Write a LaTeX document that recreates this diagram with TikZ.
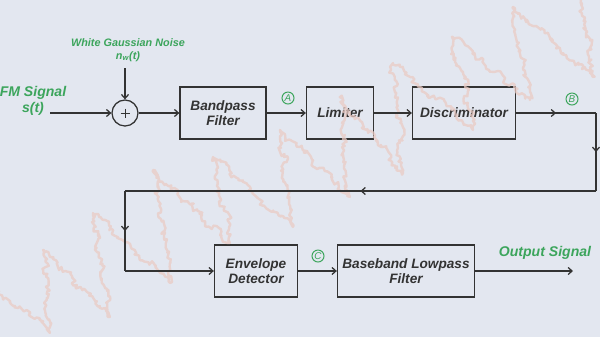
\documentclass[tikz,border=0pt]{standalone}
\usepackage{fontspec}
\setmainfont{Liberation Sans}
\usepackage{tikz}
\usetikzlibrary{arrows.meta, positioning, decorations.pathmorphing, decorations.markings}
\definecolor{fmGreen}{HTML}{3CA55C}
\definecolor{fmBack}{HTML}{E3E7F0}
\definecolor{fmWave}{HTML}{EACBC4}
\definecolor{fmLine}{HTML}{333333}

\begin{document}
\begin{tikzpicture}[x=0.025cm, y=-0.025cm,
    >={Straight Barb[length=2.8pt, width=5pt]},
    block/.style={rectangle, draw=fmLine, line width=0.9pt, minimum height=1.3cm,
                  font=\fontsize{9.7}{11}\selectfont\bfseries\itshape\color{fmLine}, align=center},
    adder/.style={circle, draw=fmLine, line width=0.9pt, minimum size=0.65cm, inner sep=0pt},
    conn/.style={draw=fmLine, line width=0.9pt},
    midarrow/.style={postaction={decorate}, decoration={markings,
                     mark=at position 0.5 with {\arrow{>}}}},
    tag/.style={circle, draw=fmGreen, line width=0.7pt, inner sep=0pt, minimum size=0.3cm,
                font=\fontsize{7}{7}\selectfont\itshape\color{fmGreen}},
    sig/.style={font=\fontsize{10}{11}\selectfont\bfseries\itshape\color{fmGreen}, align=center},
    wave/.style={draw=fmWave, line width=1.7pt, line join=round},
  ]
    % background
    \fill[fmBack] (0,0) rectangle (600,337);
    \useasboundingbox (0,0) rectangle (600,337);

    % blocks
    \node[adder] (add) at (125,113) {};
    \draw[conn, line width=0.6pt] (add.center) +(-4.5,0) -- +(4.5,0)
                                  (add.center) +(0,-4.5) -- +(0,4.5);
    \node[block, minimum width=2.15cm]  (bpf)  at (223,113) {Bandpass\\Filter};
    \node[block, minimum width=1.675cm] (lim)  at (340,113) {Limiter};
    \node[block, minimum width=2.575cm] (disc) at (464,113) {Discriminator};
    \node[block, minimum width=2.075cm] (env)  at (256,271) {Envelope\\Detector};
    \node[block, minimum width=3.425cm] (lpf)  at (406,271) {Baseband Lowpass\\Filter};

    % noise trace
    \pgfmathsetseed{11}
    \begin{scope}[opacity=0.75]
      \clip (0,0) rectangle (600,337);
      \draw[wave] decorate[decoration={random steps, segment length=1.5pt, amplitude=1.6pt}]
        {decorate[decoration={random steps, segment length=7pt, amplitude=3pt}]
        {(-20,275) -- (50,333) -- (43,250) -- (110,317) -- (93,213) -- (170,283)
        -- (153,170) -- (230,243) -- (213,157) -- (293,227) -- (280,130) -- (350,197)
        -- (340,97) -- (403,173) -- (393,63) -- (473,130) -- (453,37) -- (530,100)
        -- (513,7) -- (593,77) -- (577,-20) -- (640,20)}};
    \end{scope}

    % labels
    \node[sig] (fm) at (33,101) {FM Signal\\s(t)};
    \node[sig, font=\fontsize{7.7}{9.2}\selectfont\bfseries\itshape\color{fmGreen}]
      (nz) at (128,50) {White Gaussian Noise\\n\textsubscript{w}(t)};
    \node[sig] (outlbl) at (545,253) {Output Signal};
    \node[tag] (ta) at (288,98) {A};
    \node[tag] (tb) at (572,99) {B};
    \node[tag] (tc) at (318,256) {C};

    % corner points
    \coordinate (in)  at (50,113);
    \coordinate (ns)  at (125,68);
    \coordinate (c1)  at (596,113);
    \coordinate (c2)  at (596,191);
    \coordinate (c3)  at (125,191);
    \coordinate (c4)  at (125,271);
    \coordinate (out) at (573,271);

    % connectors
    \draw[conn, ->] (in) -- (add.west);
    \draw[conn, ->] (ns) -- (add.north);
    \draw[conn, ->] (add.east) -- (bpf.west);
    \draw[conn, ->] (bpf) -- (lim);
    \draw[conn, ->] (lim) -- (disc);
    \draw[conn, midarrow] (disc.east) -- (c1);
    \draw[conn, midarrow] (c1) -- (c2);
    \draw[conn, midarrow] (c2) -- (c3);
    \draw[conn, midarrow] (c3) -- (c4);
    \draw[conn, ->] (c4) -- (env.west);
    \draw[conn, ->] (env) -- (lpf);
    \draw[conn, ->] (lpf.east) -- (out);
  \end{tikzpicture}
\end{document}
